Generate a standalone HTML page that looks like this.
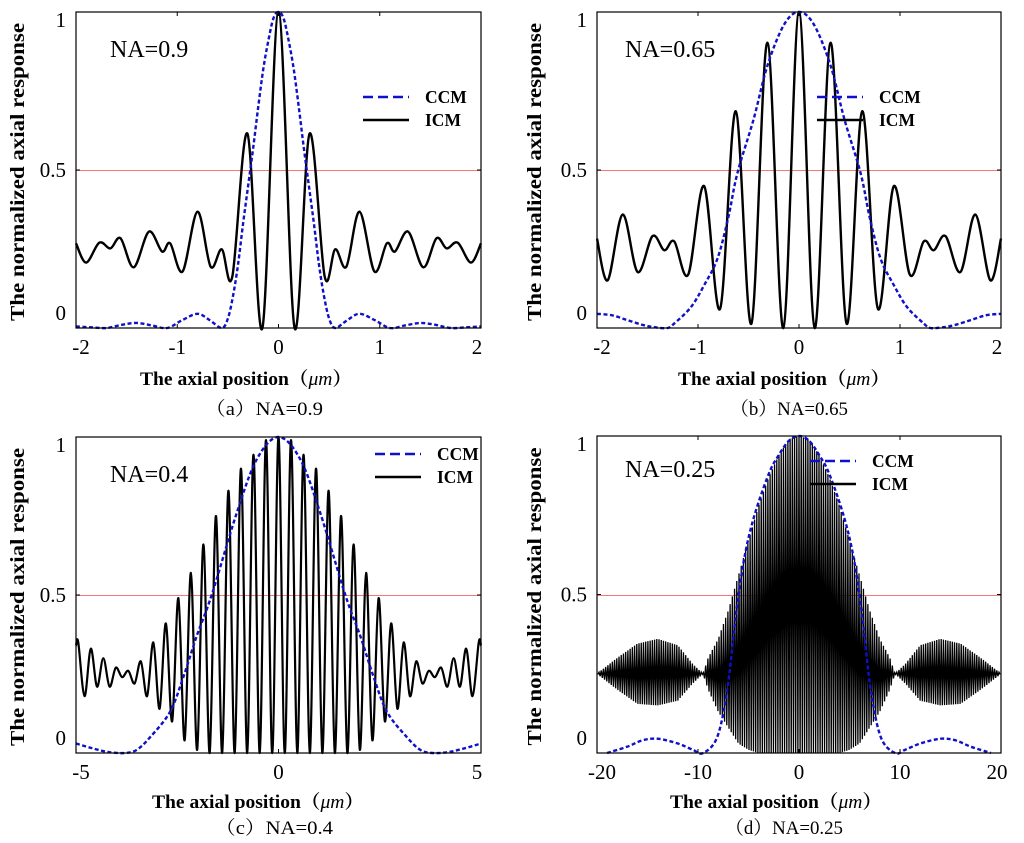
<!DOCTYPE html>
<html><head><meta charset="utf-8">
<style>
body{margin:0;background:#fff;width:1024px;height:843px;overflow:hidden;font-family:"Liberation Serif","Noto Serif CJK SC",serif;}
svg{display:block}
</style></head>
<body>
<svg id="fig" width="1024" height="843" viewBox="0 0 1024 843" xmlns="http://www.w3.org/2000/svg"></svg>
<script>
// ---- Panel (a) NA=0.9 ----
const aXTicks=[-2,-1,0,1,2];
const aCcmX=[-2,-1.85,-1.7,-1.55,-1.4,-1.25,-1.1,-0.95,-0.8,-0.68,-0.56,-0.5,-0.45,-0.4,-0.35,-0.3,-0.25,-0.2,-0.15,-0.1,-0.05,0];
const aCcmY=[0.005,0.002,0,0.01,0.016,0.008,0,0.025,0.045,0.025,0,0.03,0.1,0.2,0.33,0.45,0.57,0.7,0.82,0.91,0.98,1];
const aIcmX=[-2,-1.9,-1.77,-1.66,-1.56,-1.43,-1.28,-1.15,-1.07,-0.947,-0.8,-0.67,-0.56,-0.456,-0.307,-0.159,0];
const aIcmY=[0.268,0.207,0.27,0.252,0.284,0.192,0.305,0.242,0.268,0.179,0.368,0.194,0.249,0.163,0.615,0,1];
// ---- Panel (b) NA=0.65 ----
const bXTicks=[-2,-1,0,1,2];
const bCcmX=[-2,-1.85,-1.7,-1.55,-1.42,-1.3,-1.236,-1.07,-0.94,-0.807,-0.7,-0.61,-0.45,-0.313,-0.148,0];
const bCcmY=[0.045,0.04,0.025,0.01,0.002,0,0.014,0.066,0.135,0.22,0.35,0.49,0.66,0.83,0.96,1];
const bIcmX=[-2,-1.894,-1.746,-1.598,-1.45,-1.334,-1.235,-1.097,-0.939,-0.781,-0.626,-0.471,-0.313,-0.155,0];
const bIcmY=[0.283,0.151,0.359,0.177,0.291,0.246,0.274,0.169,0.449,0.061,0.686,0.014,0.903,0,1];
// ---- Panel (c) NA=0.4 ----
const cXTicks=[-5,0,5];
const cCcmX=[-5,-4.6,-4.2,-3.8,-3.5,-3.17,-2.68,-2.35,-2.02,-1.65,-1.03,-0.535,0];
const cCcmY=[0.03,0.015,0.003,0,0.01,0.05,0.13,0.24,0.37,0.5,0.76,0.93,1];
const cPeriod=0.309;
const cPeaks=[1,0.99,0.944,0.9,0.83,0.75,0.66,0.57,0.49,0.41,0.35,0.29,0.26,0.27,0.3,0.33,0.35];
const cTroughs=[0,0,0,0,0,0,0.01,0.04,0.1,0.14,0.18,0.22,0.24,0.21,0.21,0.18];
const cEndValue=0.34;
// ---- Panel (d) NA=0.25 ----
const dXTicks=[-20,-10,0,10,20];
const dCcmX=[-19,-17,-15.5,-14,-12,-10.5,-9.5,-8.1,-7.1,-6.3,-5.5,-4.5,-3,-2,-1,0];
const dCcmY=[0,0.02,0.04,0.045,0.03,0.01,0,0.05,0.2,0.42,0.6,0.74,0.88,0.94,0.985,1];
const dPeriod=0.22;
const dEnvX=[-20,-18,-16,-14,-12,-10.5,-9.5,-9,-8,-7,-6,-5,-4,-3,-2,-1,0];
const dUpper=[0.25,0.3,0.345,0.36,0.34,0.28,0.25,0.3,0.36,0.45,0.56,0.67,0.78,0.87,0.94,0.99,1];
const dLower=[0.25,0.2,0.155,0.15,0.165,0.22,0.25,0.2,0.13,0.08,0.03,0.01,0,0,0,0,0];

const NS="http://www.w3.org/2000/svg";
const svg=document.getElementById('fig');
function el(tag,attrs,parent){const e=document.createElementNS(NS,tag);for(const k in attrs)e.setAttribute(k,attrs[k]);(parent||svg).appendChild(e);return e;}
function mirror(xs,ys){const X=[],Y=[];for(let i=0;i<xs.length;i++){X.push(xs[i]);Y.push(ys[i]);}for(let i=xs.length-2;i>=0;i--){X.push(-xs[i]);Y.push(ys[i]);}return [X,Y];}
function smoothPath(pts){let d='M'+pts[0][0].toFixed(2)+','+pts[0][1].toFixed(2);for(let i=0;i<pts.length-1;i++){const p0=pts[Math.max(0,i-1)],p1=pts[i],p2=pts[i+1],p3=pts[Math.min(pts.length-1,i+2)];const c1x=p1[0]+(p2[0]-p0[0])/6,c1y=p1[1]+(p2[1]-p0[1])/6,c2x=p2[0]-(p3[0]-p1[0])/6,c2y=p2[1]-(p3[1]-p1[1])/6;d+='C'+c1x.toFixed(2)+','+c1y.toFixed(2)+' '+c2x.toFixed(2)+','+c2y.toFixed(2)+' '+p2[0].toFixed(2)+','+p2[1].toFixed(2);}return d;}
function interp(xs,ys,x){const ax=Math.abs(x);
 for(let i=0;i<xs.length-1;i++){const a=-xs[i],b=-xs[i+1];if(ax<=a&&ax>=b){const t=(a-ax)/(a-b||1);return ys[i]+(ys[i+1]-ys[i])*t;}}return ys[ys.length-1];}

function panel(cfg){
 const g=el('g',{});
 
 
 const L=cfg.L,R=cfg.R,T=cfg.T,B=cfg.B;
 const sx=v=>L+(v-cfg.xmin)/(cfg.xmax-cfg.xmin)*(R-L);
 const sy=v=>B-v*(B-T);
 // red 0.5 line
 const ry=Math.round(sy(0.5));
 const rl=el('rect',{x:L,y:ry,width:R-L,height:1,fill:'#f47878'},g);
 
 // ticks
 cfg.xticks.forEach((t,i)=>{const x=sx(t);
  el('line',{x1:x,x2:x,y1:B,y2:B-4,stroke:'#000'},g);el('line',{x1:x,x2:x,y1:T,y2:T+4,stroke:'#000'},g);
  let lx=x;if(i===0)lx+=5;if(i===cfg.xticks.length-1)lx-=4;
  const tx=el('text',{x:lx,y:B+26,'font-size':21,'text-anchor':'middle'},g);tx.textContent=t;
  });
 [[0,'0',-8],[0.5,'0.5',7],[1,'1',15]].forEach(([v,s,dy])=>{
  el('line',{x1:L,x2:L+4,y1:sy(v),y2:sy(v),stroke:'#000'},g);el('line',{x1:R,x2:R-4,y1:sy(v),y2:sy(v),stroke:'#000'},g);
  const tx=el('text',{x:L-10,y:sy(v)+dy,'font-size':21,'text-anchor':'end'},g);tx.textContent=s;
  });
 // ICM
 let icmPts=[];
 if(cfg.icmX){const [X,Y]=mirror(cfg.icmX,cfg.icmY);icmPts=X.map((x,i)=>[sx(x),sy(Y[i])]);}
 else if(cfg.type==='c'){const n=cPeaks.length-1;const pts=[[cfg.xmin,cEndValue]];
  for(let k=-n;k<=n;k++){pts.push([k*cPeriod,cPeaks[Math.abs(k)]]);if(k<n){const j=k<0?Math.abs(k)-1:k;pts.push([(k+0.5)*cPeriod,cTroughs[j]]);}}
  pts.push([cfg.xmax,cEndValue]);icmPts=pts.map(p=>[sx(p[0]),sy(p[1])]);}
 else {const pts=[];const n=Math.floor(20/dPeriod*2);for(let k=-n;k<=n;k++){const x=k*dPeriod/2;if(x<-20||x>20)continue;const env=(k%2===0)?dUpper:dLower;pts.push([x,interp(dEnvX,env,x)]);}
  icmPts=pts.map(p=>[sx(p[0]),sy(p[1])]);}
 const ip=el('path',{d:cfg.type==='d'?('M'+icmPts.map(p=>p[0].toFixed(2)+','+p[1].toFixed(2)).join('L')):smoothPath(icmPts),fill:'none',stroke:'#000','stroke-width':cfg.type==='d'?1.3:(cfg.type==='c'?2.2:2.4)},g);
 
 // CCM
 const [CX,CY]=mirror(cfg.ccmX,cfg.ccmY);
 const cp=el('path',{d:smoothPath(CX.map((x,i)=>[sx(x),sy(CY[i])])),fill:'none',stroke:'#1010c8','stroke-width':2.4,'stroke-dasharray':'4,2.5'},g);
 
 // frame
 el('rect',{x:L,y:T,width:R-L,height:B-T,fill:'none',stroke:'#000','stroke-width':1.2},g);
 // NA label
 const na=el('text',{x:cfg.naX,y:cfg.naY,'font-size':24},g);na.textContent=cfg.na;
 
 // legend
 const lg=el('g',{},g);
 el('line',{x1:cfg.lgX,x2:cfg.lgX+46,y1:cfg.lgY,y2:cfg.lgY,stroke:'#1010c8','stroke-width':2.6,'stroke-dasharray':'10,5'},lg);
 el('line',{x1:cfg.lgX,x2:cfg.lgX+46,y1:cfg.lgY+23,y2:cfg.lgY+23,stroke:'#000','stroke-width':2.4},lg);
 const t1=el('text',{x:cfg.lgX+62,y:cfg.lgY+6,'font-size':17.5,'font-weight':'bold'},lg);t1.textContent='CCM';
 
 const t2=el('text',{x:cfg.lgX+62,y:cfg.lgY+29,'font-size':17.5,'font-weight':'bold'},lg);t2.textContent='ICM';
 
 // axis titles
 const xt=el('text',{x:cfg.xtX,y:cfg.xtY,'font-size':19,'font-weight':'bold',textLength:212,lengthAdjust:'spacingAndGlyphs'},g);
 xt.innerHTML='The axial position（<tspan font-style="italic" font-weight="normal">μm</tspan>）';
 
 const yt=el('text',{x:-149,y:7,'font-size':20,'font-weight':'bold',textLength:298,lengthAdjust:'spacingAndGlyphs',transform:'translate('+cfg.ytX+','+((T+B)/2+2)+') rotate(-90)'},g);
 yt.textContent='The normalized axial response';
 
 const cap=el('text',{x:cfg.capX,y:cfg.capY,'font-size':19,textLength:118,lengthAdjust:'spacingAndGlyphs'},g);cap.textContent=cfg.cap;
 
}
panel({name:'panel-a',L:76,R:481,T:12,B:328,xmin:-2,xmax:2,xticks:aXTicks,ccmX:aCcmX,ccmY:aCcmY,icmX:aIcmX,icmY:aIcmY,type:'a',na:'NA=0.9',naX:110,naY:57,lgX:363,lgY:97,xtX:140,xtY:385,ytX:17,capX:205,capY:415,cap:'（a）NA=0.9'});
panel({name:'panel-b',L:597,R:1001,T:12,B:328,xmin:-2,xmax:2,xticks:bXTicks,ccmX:bCcmX,ccmY:bCcmY,icmX:bIcmX,icmY:bIcmY,type:'b',na:'NA=0.65',naX:625,naY:57,lgX:817,lgY:97,xtX:678,xtY:385,ytX:534,capX:730,capY:415,cap:'（b）NA=0.65'});
panel({name:'panel-c',L:76,R:481,T:437,B:753,xmin:-5,xmax:5,xticks:cXTicks,ccmX:cCcmX,ccmY:cCcmY,type:'c',na:'NA=0.4',naX:110,naY:482,lgX:375,lgY:454,xtX:152,xtY:808,ytX:17,capX:215,capY:834,cap:'（c）NA=0.4'});
panel({name:'panel-d',L:597,R:1001,T:436,B:753,xmin:-20,xmax:20,xticks:dXTicks,ccmX:dCcmX,ccmY:dCcmY,type:'d',na:'NA=0.25',naX:625,naY:477,lgX:810,lgY:461,xtX:670,xtY:808,ytX:534,capX:725,capY:834,cap:'（d）NA=0.25'});
</script>
</body></html>
